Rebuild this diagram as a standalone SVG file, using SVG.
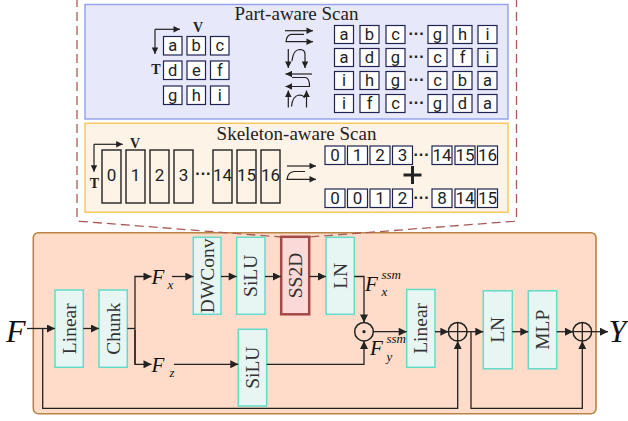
<svg xmlns="http://www.w3.org/2000/svg" width="628" height="421" viewBox="0 0 628 421">
<style>
.panelA{fill:#e8e8fb;stroke:#97a5f1;stroke-width:1.5}
.panelB{fill:#fef3e7;stroke:#fbc85c;stroke-width:1.5}
.block{fill:#fedcc9;stroke:#b98444;stroke-width:1.6}
.mint{fill:#e7f6f3;stroke:#62dbca;stroke-width:1.5}
.ss2d{fill:#fcd9d9;stroke:#a44848;stroke-width:2.5}
.cell{fill:#ffffff;stroke:#1f2350;stroke-width:1.2}
.tall{fill:none;stroke:#222;stroke-width:1.4}
.title{font-family:"Liberation Serif","Times New Roman",serif;font-size:19px;fill:#222;text-anchor:middle}
.axis{font-family:"Liberation Serif","Times New Roman",serif;font-size:14px;font-weight:bold;fill:#222;text-anchor:middle}
.lt{font-family:Roboto,"Liberation Sans",sans-serif;font-size:16.5px;fill:#222;text-anchor:middle}
.dg{font-family:Roboto,"Liberation Sans",sans-serif;font-size:17px;fill:#222;text-anchor:middle}
.dots{font-family:"Liberation Sans",sans-serif;font-size:16px;font-weight:bold;fill:#222;text-anchor:middle}
.bx{font-family:"Liberation Serif","Times New Roman",serif;font-size:19.5px;fill:#333;text-anchor:middle}
.it{font-family:"Liberation Serif","Times New Roman",serif;font-style:italic;fill:#111}
.ln{fill:none;stroke:#222;stroke-width:1.3}
.sl{fill:none;stroke:#222;stroke-width:1.2}
.dash{fill:none;stroke:#a85a58;stroke-width:1.3;stroke-dasharray:9 5}
</style>
<defs>
<marker id="ah" viewBox="0 0 10 10" refX="10" refY="5" markerWidth="10" markerHeight="8" markerUnits="userSpaceOnUse" orient="auto">
<path d="M0,0 L10,5 L0,10 z" fill="#222"/>
</marker>
<marker id="ahs" viewBox="0 0 10 10" refX="10" refY="5" markerWidth="7" markerHeight="6.5" markerUnits="userSpaceOnUse" orient="auto">
<path d="M0,0 L10,5 L0,10 z" fill="#222"/>
</marker>
</defs>

<g id="part-aware-scan">
<rect class="panelA" x="85" y="4.5" width="423" height="114.5"/>
<text class="title" x="296.5" y="19.5">Part-aware Scan</text>
<path class="sl" d="M155,29.3 H180" marker-end="url(#ahs)"/>
<path class="sl" d="M155,29.3 V54" marker-end="url(#ahs)"/>
<text class="axis" x="198" y="32">V</text>
<text class="axis" x="156" y="74">T</text>
<g id="grid">
<rect class="cell" x="163.5" y="36.5" width="18.5" height="18.5"/><text class="lt" x="172.75" y="51">a</text>
<rect class="cell" x="187" y="36.5" width="18.5" height="18.5"/><text class="lt" x="196.25" y="51">b</text>
<rect class="cell" x="210.5" y="36.5" width="18.5" height="18.5"/><text class="lt" x="219.75" y="51">c</text>
<rect class="cell" x="163.5" y="61" width="18.5" height="18.5"/><text class="lt" x="172.75" y="75.5">d</text>
<rect class="cell" x="187" y="61" width="18.5" height="18.5"/><text class="lt" x="196.25" y="75.5">e</text>
<rect class="cell" x="210.5" y="61" width="18.5" height="18.5"/><text class="lt" x="219.75" y="75.5">f</text>
<rect class="cell" x="163.5" y="86" width="18.5" height="18.5"/><text class="lt" x="172.75" y="100.5">g</text>
<rect class="cell" x="187" y="86" width="18.5" height="18.5"/><text class="lt" x="196.25" y="100.5">h</text>
<rect class="cell" x="210.5" y="86" width="18.5" height="18.5"/><text class="lt" x="219.75" y="100.5">i</text>
</g>
<g id="scan-icons">
<path class="sl" d="M285,30.7 H313" marker-end="url(#ahs)"/>
<path class="sl" d="M304,34.3 H291.5 Q286.5,34.8 286,41.7 H313" marker-end="url(#ahs)"/>
<path class="sl" d="M288.3,49 V68" marker-end="url(#ahs)"/>
<path class="sl" d="M292,61 Q293,50 299.5,49.5 Q305,49.5 305,54 V68" marker-end="url(#ahs)"/>
<path class="sl" d="M312,74 H285.5" marker-end="url(#ahs)"/>
<path class="sl" d="M292,77.5 H305.5 Q309.5,78 309.5,86.5 H285.5" marker-end="url(#ahs)"/>
<path class="sl" d="M288.3,107.5 V90.5" marker-end="url(#ahs)"/>
<path class="sl" d="M291.5,106.5 Q292.5,96 299,95 Q303.5,95 304.5,98"/>
<path class="sl" d="M306.5,107.5 V90.5" marker-end="url(#ahs)"/>
</g>
<g id="sequences">
<rect class="cell" x="334.5" y="25.5" width="19" height="18"/><text class="lt" x="344" y="40.2">a</text>
<rect class="cell" x="360" y="25.5" width="19" height="18"/><text class="lt" x="369.5" y="40.2">b</text>
<rect class="cell" x="386" y="25.5" width="19" height="18"/><text class="lt" x="395.5" y="40.2">c</text>
<text class="dots" x="416.5" y="39">···</text>
<rect class="cell" x="428" y="25.5" width="19" height="18"/><text class="lt" x="437.5" y="40.2">g</text>
<rect class="cell" x="453" y="25.5" width="19" height="18"/><text class="lt" x="462.5" y="40.2">h</text>
<rect class="cell" x="478" y="25.5" width="19" height="18"/><text class="lt" x="487.5" y="40.2">i</text>

<rect class="cell" x="334.5" y="48.5" width="19" height="18"/><text class="lt" x="344" y="63.2">a</text>
<rect class="cell" x="360" y="48.5" width="19" height="18"/><text class="lt" x="369.5" y="63.2">d</text>
<rect class="cell" x="386" y="48.5" width="19" height="18"/><text class="lt" x="395.5" y="63.2">g</text>
<text class="dots" x="416.5" y="62">···</text>
<rect class="cell" x="428" y="48.5" width="19" height="18"/><text class="lt" x="437.5" y="63.2">c</text>
<rect class="cell" x="453" y="48.5" width="19" height="18"/><text class="lt" x="462.5" y="63.2">f</text>
<rect class="cell" x="478" y="48.5" width="19" height="18"/><text class="lt" x="487.5" y="63.2">i</text>

<rect class="cell" x="334.5" y="71.5" width="19" height="18"/><text class="lt" x="344" y="86.2">i</text>
<rect class="cell" x="360" y="71.5" width="19" height="18"/><text class="lt" x="369.5" y="86.2">h</text>
<rect class="cell" x="386" y="71.5" width="19" height="18"/><text class="lt" x="395.5" y="86.2">g</text>
<text class="dots" x="416.5" y="85">···</text>
<rect class="cell" x="428" y="71.5" width="19" height="18"/><text class="lt" x="437.5" y="86.2">c</text>
<rect class="cell" x="453" y="71.5" width="19" height="18"/><text class="lt" x="462.5" y="86.2">b</text>
<rect class="cell" x="478" y="71.5" width="19" height="18"/><text class="lt" x="487.5" y="86.2">a</text>

<rect class="cell" x="334.5" y="94.5" width="19" height="18"/><text class="lt" x="344" y="109.2">i</text>
<rect class="cell" x="360" y="94.5" width="19" height="18"/><text class="lt" x="369.5" y="109.2">f</text>
<rect class="cell" x="386" y="94.5" width="19" height="18"/><text class="lt" x="395.5" y="109.2">c</text>
<text class="dots" x="416.5" y="108">···</text>
<rect class="cell" x="428" y="94.5" width="19" height="18"/><text class="lt" x="437.5" y="109.2">g</text>
<rect class="cell" x="453" y="94.5" width="19" height="18"/><text class="lt" x="462.5" y="109.2">d</text>
<rect class="cell" x="478" y="94.5" width="19" height="18"/><text class="lt" x="487.5" y="109.2">a</text>
</g>
</g>

<g id="skeleton-aware-scan">
<rect class="panelB" x="85" y="123.3" width="423" height="89"/>
<text class="title" x="296.5" y="140">Skeleton-aware Scan</text>
<path class="sl" d="M94,144.3 H122.7" marker-end="url(#ahs)"/>
<path class="sl" d="M94,144.3 V171.7" marker-end="url(#ahs)"/>
<text class="axis" x="135" y="147.5">V</text>
<text class="axis" x="94.5" y="188">T</text>
<g id="joints">
<rect class="tall" x="102" y="150" width="19" height="53"/><text class="dg" x="111.5" y="180.5">0</text>
<rect class="tall" x="126" y="150" width="19" height="53"/><text class="dg" x="135.5" y="180.5">1</text>
<rect class="tall" x="150" y="150" width="19" height="53"/><text class="dg" x="159.5" y="180.5">2</text>
<rect class="tall" x="174" y="150" width="19" height="53"/><text class="dg" x="183.5" y="180.5">3</text>
<text class="dots" x="203.3" y="179">···</text>
<rect class="tall" x="213" y="150" width="19" height="53"/><text class="dg" x="222.5" y="180.5">14</text>
<rect class="tall" x="237" y="150" width="19" height="53"/><text class="dg" x="246.5" y="180.5">15</text>
<rect class="tall" x="261" y="150" width="19" height="53"/><text class="dg" x="270.5" y="180.5">16</text>
</g>
<path class="sl" d="M287,166 H316" marker-end="url(#ahs)"/>
<path class="sl" d="M305,171.5 H294 Q288,172 287,179.3 H316" marker-end="url(#ahs)"/>
<g id="joint-seq">
<rect class="cell" x="325" y="146" width="20" height="18.5"/><text class="dg" x="335" y="161.3">0</text>
<rect class="cell" x="347.5" y="146" width="20" height="18.5"/><text class="dg" x="357.5" y="161.3">1</text>
<rect class="cell" x="370" y="146" width="20" height="18.5"/><text class="dg" x="380" y="161.3">2</text>
<rect class="cell" x="392.5" y="146" width="20" height="18.5"/><text class="dg" x="402.5" y="161.3">3</text>
<text class="dots" x="421.5" y="160">···</text>
<rect class="cell" x="432" y="146" width="20" height="18.5"/><text class="dg" x="442" y="161.3">14</text>
<rect class="cell" x="455" y="146" width="20" height="18.5"/><text class="dg" x="465" y="161.3">15</text>
<rect class="cell" x="477.5" y="146" width="20" height="18.5"/><text class="dg" x="487.5" y="161.3">16</text>
<path d="M403.5,175 H421.5 M412.5,166 V184" fill="none" stroke="#222" stroke-width="3"/>
<rect class="cell" x="325" y="189" width="20" height="18.5"/><text class="dg" x="335" y="204.3">0</text>
<rect class="cell" x="347.5" y="189" width="20" height="18.5"/><text class="dg" x="357.5" y="204.3">0</text>
<rect class="cell" x="370" y="189" width="20" height="18.5"/><text class="dg" x="380" y="204.3">1</text>
<rect class="cell" x="392.5" y="189" width="20" height="18.5"/><text class="dg" x="402.5" y="204.3">2</text>
<text class="dots" x="421.5" y="203">···</text>
<rect class="cell" x="432" y="189" width="20" height="18.5"/><text class="dg" x="442" y="204.3">8</text>
<rect class="cell" x="455" y="189" width="20" height="18.5"/><text class="dg" x="465" y="204.3">14</text>
<rect class="cell" x="477.5" y="189" width="20" height="18.5"/><text class="dg" x="487.5" y="204.3">15</text>
</g>
</g>

<g id="mamba-block">
<rect class="block" x="33.3" y="232.7" width="562.7" height="181" rx="5"/>
</g>

<path class="dash" d="M77,-2 V219 Q77,221 80,221.3 L281,237"/>
<path class="dash" d="M516.5,-2 V219 Q516.5,221 513.5,221.3 L309,237"/>

<g id="node-linear1"><rect class="mint" x="55" y="290" width="28.3" height="77.3"/><text class="bx" transform="translate(69.2,328.7) rotate(-90)" y="6.5">Linear</text></g>
<g id="node-chunk"><rect class="mint" x="99" y="290" width="28.3" height="77.3"/><text class="bx" transform="translate(113.2,328.7) rotate(-90)" y="6.5">Chunk</text></g>
<g id="node-dwconv"><rect class="mint" x="193.3" y="237.3" width="27.7" height="77"/><text class="bx" transform="translate(207.2,275.8) rotate(-90)" y="6.5" font-size="19">DWConv</text></g>
<g id="node-silu1"><rect class="mint" x="236.7" y="237.3" width="28.3" height="77"/><text class="bx" transform="translate(250.8,275.8) rotate(-90)" y="6.5">SiLU</text></g>
<g id="node-ss2d"><rect class="ss2d" x="281.2" y="236.8" width="28" height="77.5"/><text class="bx" transform="translate(295.2,275.5) rotate(-90)" y="6.5">SS2D</text></g>
<g id="node-ln1"><rect class="mint" x="326" y="237.3" width="28.3" height="77"/><text class="bx" transform="translate(340.2,275.8) rotate(-90)" y="6.5">LN</text></g>
<g id="node-silu2"><rect class="mint" x="238.3" y="329.3" width="28.4" height="76.7"/><text class="bx" transform="translate(252.5,367.7) rotate(-90)" y="6.5">SiLU</text></g>
<g id="node-linear2"><rect class="mint" x="406.7" y="289.5" width="28.3" height="77.8"/><text class="bx" transform="translate(420.8,328.4) rotate(-90)" y="6.5">Linear</text></g>
<g id="node-ln2"><rect class="mint" x="483.3" y="290.8" width="29" height="78"/><text class="bx" transform="translate(497.8,329.8) rotate(-90)" y="6.5">LN</text></g>
<g id="node-mlp"><rect class="mint" x="528.3" y="290.8" width="28.4" height="78"/><text class="bx" transform="translate(542.5,329.8) rotate(-90)" y="6.5">MLP</text></g>

<g id="node-mul">
<circle cx="364" cy="331.7" r="9.3" fill="none" stroke="#222" stroke-width="1.5"/>
<circle cx="364" cy="331.7" r="1.6" fill="#222"/>
</g>
<g id="node-add1">
<circle cx="457.7" cy="331.7" r="9.3" fill="none" stroke="#222" stroke-width="1.5"/>
<path d="M448.4,331.7 H467 M457.7,322.4 V341" stroke="#222" stroke-width="1.3"/>
</g>
<g id="node-add2">
<circle cx="582.3" cy="331.7" r="9.3" fill="none" stroke="#222" stroke-width="1.5"/>
<path d="M573,331.7 H591.6 M582.3,322.4 V341" stroke="#222" stroke-width="1.3"/>
</g>

<g id="labels">
<text class="it" x="6" y="341.5" font-size="32">F</text>
<text class="it" x="608.5" y="342" font-size="32">Y</text>
<text class="it" x="151.5" y="283.5" font-size="21">F<tspan x="167.5" y="289" font-size="13">x</tspan></text>
<text class="it" x="151.5" y="371.5" font-size="21">F<tspan x="169.5" y="377" font-size="13">z</tspan></text>
<text class="it" x="365" y="290.5" font-size="21">F<tspan x="381.5" y="279" font-size="13">ssm</tspan><tspan x="381.5" y="295.5" font-size="13">x</tspan></text>
<text class="it" x="370" y="354.5" font-size="21">F<tspan x="386.5" y="342.5" font-size="13">ssm</tspan><tspan x="386.5" y="361" font-size="13">y</tspan></text>
</g>

<g id="connectors">
<path class="ln" d="M27,328.5 H55" marker-end="url(#ah)"/>
<path class="ln" d="M83.3,328.5 H99" marker-end="url(#ah)"/>
<path class="ln" d="M127.3,328.5 H135"/>
<path class="ln" d="M135,364.3 V276.5 H151.5" marker-end="url(#ah)"/>
<path class="ln" d="M135,330 V364.3 H151.5" marker-end="url(#ah)"/>
<path class="ln" d="M172,276.5 H193.3" marker-end="url(#ah)"/>
<path class="ln" d="M221,276.5 H236.7" marker-end="url(#ah)"/>
<path class="ln" d="M265,276.5 H281" marker-end="url(#ah)"/>
<path class="ln" d="M309.5,276.5 H326" marker-end="url(#ah)"/>
<path class="ln" d="M354.3,276.5 H364 V322.4" marker-end="url(#ah)"/>
<path class="ln" d="M174,364.3 H238.3" marker-end="url(#ah)"/>
<path class="ln" d="M266.7,364.3 H364 V341" marker-end="url(#ah)"/>
<path class="ln" d="M373.3,331.7 H406.7" marker-end="url(#ah)"/>
<path class="ln" d="M435,331.7 H448.4" marker-end="url(#ah)"/>
<path class="ln" d="M467,331.7 H483.3" marker-end="url(#ah)"/>
<path class="ln" d="M512.3,331.7 H528.3" marker-end="url(#ah)"/>
<path class="ln" d="M556.7,331.7 H573" marker-end="url(#ah)"/>
<path class="ln" d="M591.6,331.7 H608" marker-end="url(#ah)"/>
<path class="ln" d="M42.7,328.5 V408.3 H457.7 V341" marker-end="url(#ah)"/>
<path class="ln" d="M471,331.7 V408.3 H582.3 V341" marker-end="url(#ah)"/>
</g>
</svg>
